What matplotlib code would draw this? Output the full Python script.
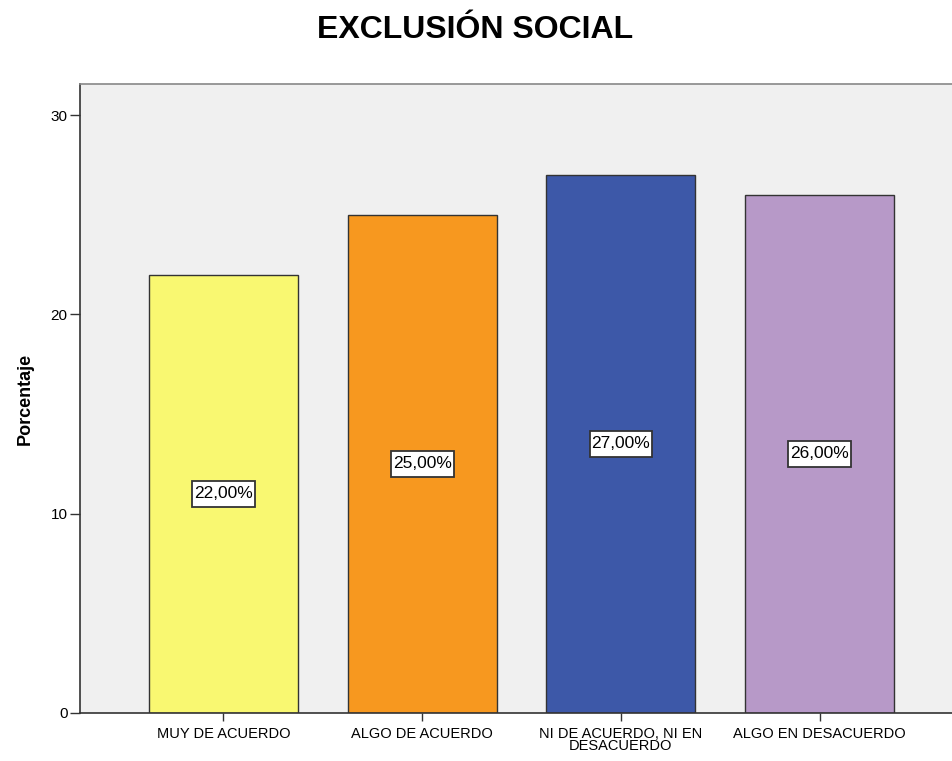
import matplotlib
matplotlib.use("Agg")
import matplotlib.pyplot as plt
from matplotlib.path import Path

categories = ["MUY DE ACUERDO", "ALGO DE ACUERDO", "NI DE ACUERDO, NI EN\nDESACUERDO", "ALGO EN DESACUERDO"]
values = [22.0, 25.0, 27.0, 26.0]
colors = ["#F9F871", "#F7981F", "#3D58A8", "#B799C8"]
yticks = [0, 10, 20, 30]

plt.rcParams['font.family'] = ['Liberation Sans', 'DejaVu Sans']


def label_box(x0, y0, width, height, mutation_size):
    px, py = 2.0, 5.5
    x0, y0 = x0 - px, y0 - py
    x1, y1 = x0 + width + 2 * px, y0 + height + 2 * py
    return Path([(x0, y0), (x1, y0), (x1, y1), (x0, y1), (x0, y0)], closed=True)


fig = plt.figure(figsize=(9.53, 7.61), dpi=100)
ax = fig.add_axes([80/953, 1-713/761, 1-80/953 + 0.002, (713-84)/761])
ax.set_facecolor("#F0F0F0")

x = list(range(len(categories)))
ax.bar(x, values, width=0.75, color=colors, edgecolor="#333333", linewidth=1.0, zorder=2)
for xi, v in zip(x, values):
    ax.text(xi, v/2, f"{v:.2f}%".replace(".", ","), ha="center", va="center", fontsize=12.5,
            bbox=dict(boxstyle=label_box, facecolor="white", edgecolor="#333333", linewidth=1.3),
            zorder=3)

ax.set_xlim(-0.721, 3.68)
ax.set_ylim(0, 31.56)
ax.set_yticks(yticks)
ax.set_xticks(x)
ax.set_xticklabels(categories, fontsize=10.5, linespacing=0.8)
ax.tick_params(axis="y", length=7, width=1, labelsize=11, pad=2, color="#333333")
ax.tick_params(axis="x", length=6, width=1, pad=4, color="#333333")

ax.spines["left"].set_color("#333333")
ax.spines["bottom"].set_color("#333333")
ax.spines["top"].set_color("#888888")
ax.spines["right"].set_visible(False)
for s in ax.spines.values():
    s.set_linewidth(1.2)

ax.set_ylabel("Porcentaje", fontsize=13, fontweight="bold", labelpad=12)
fig.text(475/953, 1-30/761, "EXCLUSIÓN SOCIAL", ha="center", va="center", fontsize=23, fontweight="bold")

fig.savefig("out.png", dpi=100)
